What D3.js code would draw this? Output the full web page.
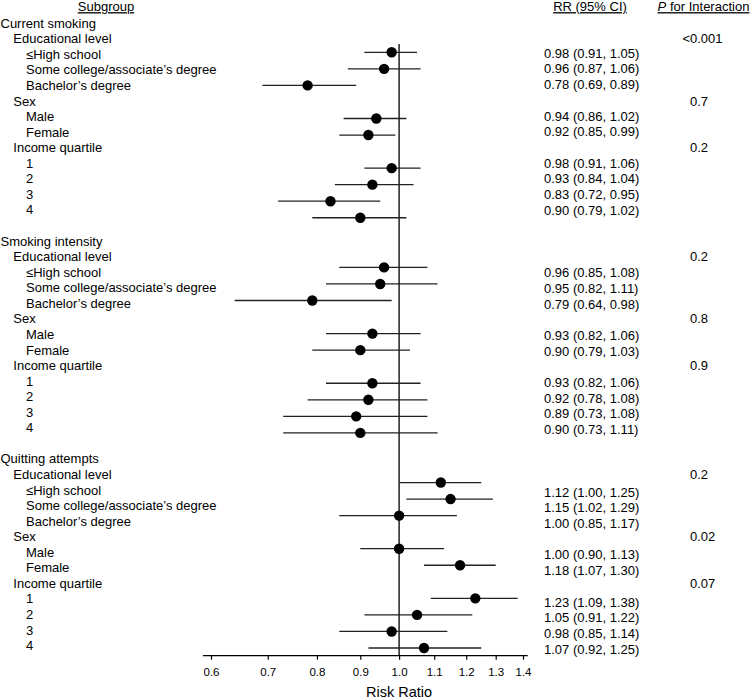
<!DOCTYPE html>
<html>
<head>
<meta charset="utf-8">
<script src="https://cdn.jsdelivr.net/npm/d3@7"></script>
<style>
  body { margin: 0; background: #fff; }
  svg text { font-family: Arial, "Liberation Sans", sans-serif; fill: #000; }
</style>
</head>
<body>
<div id="chart"></div>
<script>

// data
var sections = ["Current smoking", "Smoking intensity", "Quitting attempts"];
var groups = ["Educational level", "Sex", "Income quartile"];
var levels = [
    ["\u2264High school", "Some college/associate\u2019s degree", "Bachelor\u2019s degree"],
    ["Male", "Female"],
    ["1", "2", "3", "4"]
];

var estimates = [
    [0.98, 0.96, 0.78, 0.94, 0.92, 0.98, 0.93, 0.83, 0.90],
    [0.96, 0.95, 0.79, 0.93, 0.90, 0.93, 0.92, 0.89, 0.90],
    [1.12, 1.15, 1.00, 1.00, 1.18, 1.23, 1.05, 0.98, 1.07]
];
var lowerCI = [
    [0.91, 0.87, 0.69, 0.86, 0.85, 0.91, 0.84, 0.72, 0.79],
    [0.85, 0.82, 0.64, 0.82, 0.79, 0.82, 0.78, 0.73, 0.73],
    [1.00, 1.02, 0.85, 0.90, 1.07, 1.09, 0.91, 0.85, 0.92]
];
var upperCI = [
    [1.05, 1.06, 0.89, 1.02, 0.99, 1.06, 1.04, 0.95, 1.02],
    [1.08, 1.11, 0.98, 1.06, 1.03, 1.06, 1.08, 1.08, 1.11],
    [1.25, 1.29, 1.17, 1.13, 1.30, 1.38, 1.22, 1.14, 1.25]
];
var pInteraction = [
    ["<0.001", "0.7", "0.2"],
    ["0.2", "0.8", "0.9"],
    ["0.2", "0.02", "0.07"]
];
var tickValues = [0.6, 0.7, 0.8, 0.9, 1.0, 1.1, 1.2, 1.3, 1.4];

var width = 750,
    height = 699;

var svg = d3.select("#chart")
    .append("svg")
    .attr("width", width)
    .attr("height", height);

// build the rows. t = row of the text table (with blank rows between sections),
// j = row of the plot (the plot has no blank rows)
var rows = [];
var t = 0, j = 0;
sections.forEach(function (sec, s) {
    rows.push({ label: sec, indent: 0, t: t++, j: j++ });
    var k = 0;
    groups.forEach(function (g, gi) {
        rows.push({ label: g, indent: 1, t: t++, j: j++, p: pInteraction[s][gi] });
        levels[gi].forEach(function (lv) {
            rows.push({
                label: lv, indent: 2, t: t++, j: j++,
                est: estimates[s][k], lo: lowerCI[s][k], hi: upperCI[s][k]
            });
            k++;
        });
    });
    t++; // blank row
});

var x = d3.scaleLog()
    .domain([0.6, 1.4])
    .range([211, 523]);

var yLabel = d3.scaleLinear().domain([0, 40]).range([23.2, 645.6]);
var yRR = d3.scaleLinear().domain([0, 40]).range([21.9, 649]);
var yMark = d3.scaleLinear().domain([0, 38]).range([19.2, 648]);

var axisY = 655.7;
var indentX = [0.5, 13.3, 26];

// headers
var head = svg.append("g").attr("class", "headers")
    .style("font-size", "13px")
    .style("text-decoration", "underline");

var headY = 6.6;

head.append("text")
    .attr("x", 106).attr("y", headY).attr("dy", "0.35em")
    .attr("text-anchor", "middle")
    .text("Subgroup");

head.append("text")
    .attr("x", 590).attr("y", headY).attr("dy", "0.35em")
    .attr("text-anchor", "middle")
    .text("RR (95% CI)");

var ph = head.append("text")
    .attr("x", 703.5).attr("y", headY).attr("dy", "0.35em")
    .attr("text-anchor", "middle");
ph.append("tspan").style("font-style", "italic").text("P");
ph.append("tspan").text(" for Interaction");

// subgroup labels
svg.append("g").attr("class", "labels")
    .style("font-size", "13px")
    .selectAll("text")
    .data(rows)
    .enter().append("text")
    .attr("x", function (d) { return indentX[d.indent]; })
    .attr("y", function (d) { return yLabel(d.t); })
    .attr("dy", "0.35em")
    .text(function (d) { return d.label; });

var leaves = rows.filter(function (d) { return d.est !== undefined; });

// RR (95% CI) column
var fmt = d3.format(".2f");
svg.append("g").attr("class", "rr")
    .style("font-size", "13px")
    .selectAll("text")
    .data(leaves)
    .enter().append("text")
    .attr("x", 544)
    .attr("y", function (d) { return yRR(d.t); })
    .attr("dy", "0.35em")
    .text(function (d) { return fmt(d.est) + " (" + fmt(d.lo) + ", " + fmt(d.hi) + ")"; });

// P for interaction column, lined up on the first digit
var pg = svg.append("g").attr("class", "pvals").style("font-size", "13px");
var pText = pg.selectAll("text")
    .data(rows.filter(function (d) { return d.p !== undefined; }))
    .enter().append("text")
    .attr("x", 690)
    .attr("y", function (d) { return yLabel(d.t); })
    .attr("dy", "0.35em")
    .text(function (d) { return d.p; });

var tmp = pg.append("text").text("<");
var ltWidth = tmp.node().getComputedTextLength();
tmp.remove();
pText.filter(function (d) { return d.p.charAt(0) === "<"; })
    .attr("x", 690 - ltWidth);

// reference line at 1
svg.append("line")
    .attr("x1", x(1)).attr("x2", x(1))
    .attr("y1", yMark(1.5)).attr("y2", axisY)
    .attr("stroke", "#111")
    .attr("stroke-width", 1.4);

// confidence intervals and point estimates
var marks = svg.append("g").attr("class", "marks");

marks.selectAll("line")
    .data(leaves)
    .enter().append("line")
    .attr("x1", function (d) { return x(d.lo); })
    .attr("x2", function (d) { return x(d.hi); })
    .attr("y1", function (d) { return yMark(d.j); })
    .attr("y2", function (d) { return yMark(d.j); })
    .attr("stroke", "#222")
    .attr("stroke-width", 1.3);

marks.selectAll("circle")
    .data(leaves)
    .enter().append("circle")
    .attr("cx", function (d) { return x(d.est); })
    .attr("cy", function (d) { return yMark(d.j); })
    .attr("r", 5.2)
    .attr("fill", "#000");

// axis
var axis = d3.axisBottom(x)
    .tickValues(tickValues)
    .tickFormat(d3.format(".1f"))
    .tickSize(4)
    .tickPadding(8);

var ax = svg.append("g")
    .attr("transform", "translate(0," + axisY + ")")
    .call(axis);

ax.select(".domain").remove();
ax.append("line")
    .attr("x1", x(0.587)).attr("x2", x(1.418))
    .attr("stroke", "#000")
    .attr("stroke-width", 1.2);
ax.selectAll(".tick line").attr("stroke", "#000").attr("stroke-width", 1.2);
ax.selectAll(".tick text")
    .style("font-family", "Arial, 'Liberation Sans', sans-serif")
    .style("font-size", "11.5px")
    .attr("fill", "#000");

svg.append("text")
    .attr("x", x(1))
    .attr("y", 691.5)
    .attr("dy", "0.35em")
    .attr("text-anchor", "middle")
    .style("font-size", "14.5px")
    .text("Risk Ratio");

</script>
</body>
</html>
